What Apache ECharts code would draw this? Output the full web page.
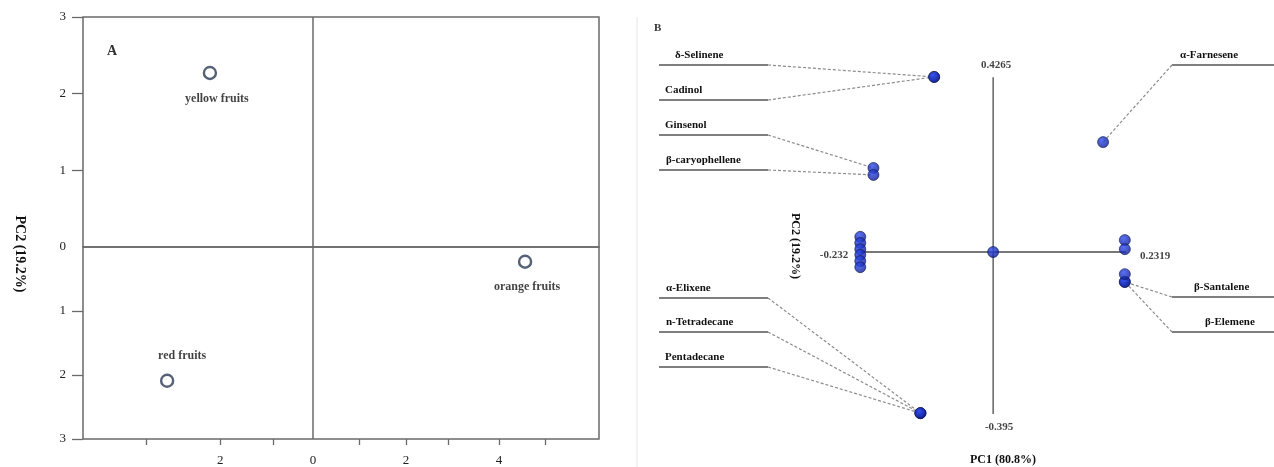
<!DOCTYPE html>
<html>
<head>
<meta charset="utf-8">
<script src="https://cdn.jsdelivr.net/npm/echarts@6/dist/echarts.min.js"></script>
<style>
  html, body { margin: 0; padding: 0; background: #fff; }
  #chart { width: 1274px; height: 467px; }
</style>
</head>
<body>
<div id="chart"></div>
<script>
// Panel A: PCA scores of the fruit groups
const fruitNames = ['yellow fruits', 'red fruits', 'orange fruits'];
const fruitPC1 = [-2.22, -3.14, 4.56];
const fruitPC2 = [2.27, -2.09, -0.23];
const scoreXTicks = [-3.6, -2, -0.85, 1, 2, 2.9, 4, 5];
const scoreXLabels = [-2, 0, 2, 4];
const scoreYLabelsUp = [1, 2, 3];
const scoreYLabelsDown = [0, -1, -2, -3];

// Panel B: loadings of the compounds
const compoundNames = ['δ-Selinene', 'Cadinol', 'Ginsenol', 'β-caryophellene', 'α-Farnesene',
  'β-Santalene', 'β-Elemene', 'α-Elixene', 'n-Tetradecane', 'Pentadecane'];
const compoundPC1 = [-0.103, -0.103, -0.209, -0.209, 0.192, 0.230, 0.230, -0.127, -0.127, -0.127];
const compoundPC2 = [0.427, 0.427, 0.205, 0.188, 0.268, -0.073, -0.073, -0.393, -0.393, -0.393];
// unlabeled loadings (stacked clusters and the origin)
const otherPC1 = [-0.232, -0.232, -0.232, -0.232, -0.232, -0.232, 0, 0.230, 0.230, 0.230];
const otherPC2 = [0.037, 0.022, 0.007, -0.007, -0.022, -0.037, 0, 0.029, 0.007, -0.054];
const pc1Range = [-0.232, 0.2319];
const pc2Range = [-0.395, 0.4265];

// layout of the annotations (pixels)
const fruitLabelLayout = {
  'yellow fruits': { position: 'bottom', distance: 13, offset: [7, 0] },
  'red fruits': { position: 'top', distance: 12, offset: [15, 0] },
  'orange fruits': { position: 'bottom', distance: 12, offset: [2, 0] }
};
const leaderLayout = {
  'δ-Selinene': { side: 'left', y: 65, tx: 675 },
  'Cadinol': { side: 'left', y: 100, tx: 665 },
  'Ginsenol': { side: 'left', y: 135, tx: 665 },
  'β-caryophellene': { side: 'left', y: 170, tx: 666 },
  'α-Farnesene': { side: 'right', y: 65, tx: 1180 },
  'β-Santalene': { side: 'right', y: 297, tx: 1194 },
  'β-Elemene': { side: 'right', y: 332, tx: 1205 },
  'α-Elixene': { side: 'left', y: 298, tx: 666 },
  'n-Tetradecane': { side: 'left', y: 332, tx: 666 },
  'Pentadecane': { side: 'left', y: 367, tx: 665 }
};

const serif = '"Liberation Serif", "DejaVu Serif", serif';
const absFmt = v => String(Math.abs(v));

function fruitData(filter) {
  const out = [];
  fruitNames.forEach((n, i) => {
    if (!filter(fruitPC2[i])) return;
    const lay = fruitLabelLayout[n];
    out.push({
      name: n,
      value: [fruitPC1[i], fruitPC2[i]],
      label: { position: lay.position, distance: lay.distance, offset: lay.offset }
    });
  });
  return out;
}

const fruitSeriesBase = {
  type: 'scatter',
  symbol: 'circle',
  symbolSize: 12,
  itemStyle: { color: '#fff', borderColor: '#2a3954', borderWidth: 2.4 },
  label: {
    show: true, formatter: '{b}', color: '#111',
    fontFamily: serif, fontWeight: 'bold', fontSize: 12
  },
  markLine: {
    silent: true, symbol: 'none', label: { show: false },
    lineStyle: { color: '#6a6a6a', width: 1.5, type: 'solid' },
    data: [{ xAxis: 0 }]
  }
};

const tickStyle = { color: '#6a6a6a', width: 1.3 };
const tickLabel = { color: '#222', fontFamily: serif, fontSize: 13 };

const chart = echarts.init(document.getElementById('chart'));
chart.setOption({
  animation: false,
  backgroundColor: '#fff',
  grid: [
    { left: 83, top: 17, width: 516, height: 230, show: true, borderColor: '#6a6a6a', borderWidth: 1.5 },
    { left: 83, top: 247, width: 516, height: 195, show: true, borderColor: '#6a6a6a', borderWidth: 1.5 },
    { left: 661, top: 47, width: 607, height: 410 }
  ],
  xAxis: [
    { gridIndex: 0, type: 'value', min: -4.95, max: 6.15, show: false },
    {
      gridIndex: 1, type: 'value', min: -4.95, max: 6.15, position: 'bottom',
      axisLine: { show: false, onZero: false }, splitLine: { show: false },
      axisTick: { show: true, customValues: scoreXTicks, length: 6, lineStyle: tickStyle },
      axisLabel: Object.assign({ customValues: scoreXLabels, formatter: absFmt, margin: 15 }, tickLabel)
    },
    { gridIndex: 2, type: 'value', min: -0.58, max: 0.48, show: false }
  ],
  yAxis: [
    {
      gridIndex: 0, type: 'value', min: 0, max: 3, position: 'left',
      axisLine: { show: false, onZero: false }, splitLine: { show: false },
      axisTick: { show: true, customValues: scoreYLabelsUp, length: 11, lineStyle: tickStyle },
      axisLabel: Object.assign({ customValues: scoreYLabelsUp, formatter: absFmt, margin: 17, padding: [6, 0, 0, 0] }, tickLabel)
    },
    {
      gridIndex: 1, type: 'value', min: -3, max: 0, position: 'left',
      axisLine: { show: false, onZero: false }, splitLine: { show: false },
      axisTick: { show: true, customValues: [-1, -2, -3], length: 11, lineStyle: tickStyle },
      axisLabel: Object.assign({ customValues: scoreYLabelsDown, formatter: absFmt, margin: 17 }, tickLabel)
    },
    { gridIndex: 2, type: 'value', min: -0.5, max: 0.5, show: false }
  ],
  graphic: [
    { type: 'line', shape: { x1: 637, y1: 17, x2: 637, y2: 467 }, style: { stroke: '#e6e6e6', lineWidth: 1 } },
    { type: 'text', x: 107, y: 51, style: { text: 'A', font: 'bold 14px ' + serif, fill: '#333', verticalAlign: 'middle' } },
    { type: 'text', x: 654, y: 28, style: { text: 'B', font: 'bold 11px ' + serif, fill: '#333', verticalAlign: 'middle' } },
    {
      type: 'text', x: 20, y: 254, rotation: -Math.PI / 2,
      style: { text: 'PC2 (19.2%)', font: 'bold 14px ' + serif, fill: '#111', align: 'center', verticalAlign: 'middle' }
    },
    {
      type: 'text', x: 795, y: 246, rotation: -Math.PI / 2,
      style: { text: 'PC2 (19.2%)', font: 'bold 12px ' + serif, fill: '#111', align: 'center', verticalAlign: 'middle' }
    },
    {
      type: 'text', x: 1003, y: 460,
      style: { text: 'PC1 (80.8%)', font: 'bold 12px ' + serif, fill: '#111', align: 'center', verticalAlign: 'middle' }
    }
  ],
  series: [
    Object.assign({}, fruitSeriesBase, { xAxisIndex: 0, yAxisIndex: 0, data: fruitData(v => v >= 0) }),
    Object.assign({}, fruitSeriesBase, { xAxisIndex: 1, yAxisIndex: 1, data: fruitData(v => v < 0) }),
    {
      type: 'custom', xAxisIndex: 2, yAxisIndex: 2, z: 1, silent: true,
      data: compoundNames.map((n, i) => [compoundPC1[i], compoundPC2[i]]),
      renderItem: (params, api) => {
        const name = compoundNames[params.dataIndex];
        const lay = leaderLayout[name];
        const pt = api.coord([api.value(0), api.value(1)]);
        const x0 = lay.side === 'left' ? 659 : 1172;
        const x1 = lay.side === 'left' ? 768 : 1274;
        const inner = lay.side === 'left' ? x1 : x0;
        return {
          type: 'group',
          children: [
            { type: 'line', shape: { x1: x0, y1: lay.y, x2: x1, y2: lay.y }, style: { stroke: '#555', lineWidth: 1.3 } },
            { type: 'line', shape: { x1: inner, y1: lay.y, x2: pt[0], y2: pt[1] }, style: { stroke: '#8c8c8c', lineWidth: 1.2, lineDash: [3, 2] } },
            { type: 'text', x: lay.tx, y: lay.y - 4, style: { text: name, font: 'bold 11px ' + serif, fill: '#111', verticalAlign: 'bottom' } }
          ]
        };
      }
    },
    {
      type: 'line', xAxisIndex: 2, yAxisIndex: 2, z: 1, symbol: 'none', silent: true,
      lineStyle: { color: '#4a4a4a', width: 1.3 },
      data: [[0, pc2Range[0]], [0, pc2Range[1]]]
    },
    {
      type: 'line', xAxisIndex: 2, yAxisIndex: 2, z: 1, symbol: 'none', silent: true,
      lineStyle: { color: '#4a4a4a', width: 1.3 },
      data: [[pc1Range[0], 0], [pc1Range[1], 0]]
    },
    {
      type: 'scatter', xAxisIndex: 2, yAxisIndex: 2, z: 3, symbolSize: 11,
      itemStyle: {
        color: new echarts.graphic.RadialGradient(0.4, 0.35, 0.7, [
          { offset: 0, color: '#2f4cf0' }, { offset: 1, color: '#0a168a' }
        ]),
        borderColor: '#0f1a55', borderWidth: 0.8
      },
      data: compoundPC1.map((v, i) => [v, compoundPC2[i]]).concat(otherPC1.map((v, i) => [v, otherPC2[i]]))
    },
    {
      type: 'scatter', xAxisIndex: 2, yAxisIndex: 2, symbolSize: 0, silent: true,
      label: { show: true, color: '#111', fontFamily: serif, fontWeight: 'bold', fontSize: 11, formatter: '{b}' },
      data: [
        { name: String(pc2Range[1]), value: [0, pc2Range[1]], label: { position: 'top', distance: 6, offset: [3, 0] } },
        { name: String(pc2Range[0]), value: [0, pc2Range[0]], label: { position: 'bottom', distance: 8, offset: [6, 0] } },
        { name: String(pc1Range[0]), value: [pc1Range[0], 0], label: { position: 'left', distance: 12, offset: [0, 3] } },
        { name: String(pc1Range[1]), value: [pc1Range[1], 0], label: { position: 'right', distance: 14, offset: [0, 4] } }
      ]
    }
  ]
});
</script>
</body>
</html>
